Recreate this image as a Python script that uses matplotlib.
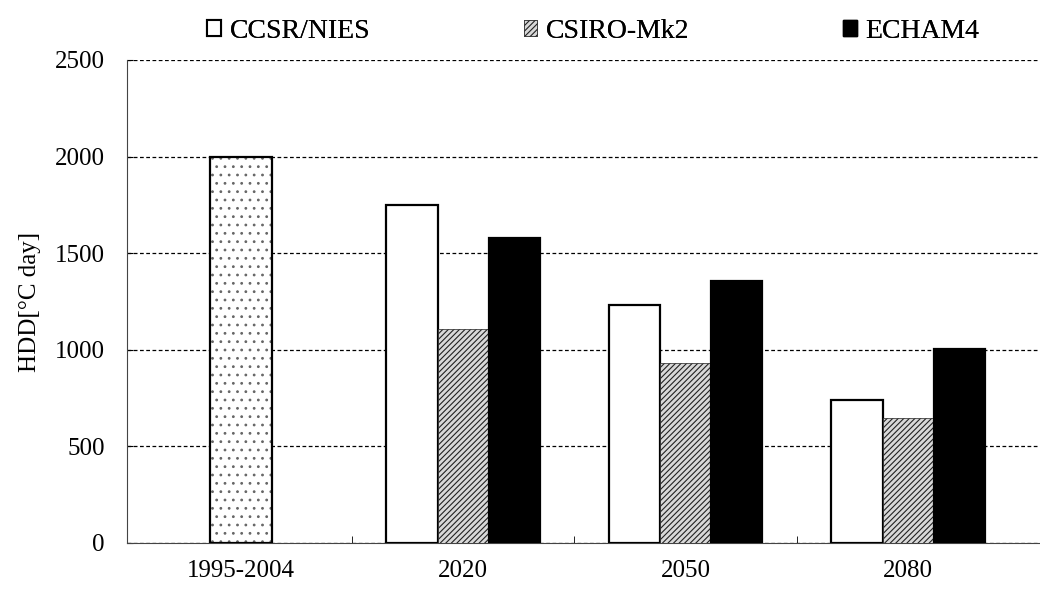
import numpy as np
import matplotlib.pyplot as plt
from matplotlib.patches import Patch

plt.rcParams['font.family'] = ['Liberation Serif', 'DejaVu Serif']
plt.rcParams['hatch.linewidth'] = 0.8

periods = ['1995-2004', '2020', '2050', '2080']
baseline = 2000
models = ['CCSR/NIES', 'CSIRO-Mk2', 'ECHAM4']
ccsr = [1750, 1230, 740]
csiro = [1110, 930, 645]
echam = [1580, 1355, 1005]


def main():
    fig = plt.figure(figsize=(10.4, 5.97), dpi=100)
    ax = fig.add_axes([0.122, 0.0905, 0.878, 0.809])

    x = np.arange(len(periods)) * 1.0
    w = 0.23

    # baseline bar (dotted)
    ax.bar(x[0], baseline, width=0.28, facecolor='white', edgecolor='#666666',
           hatch='..', linewidth=0, zorder=3)
    ax.bar(x[0], baseline, width=0.28, facecolor='none', edgecolor='black',
           linewidth=1.6, zorder=4)

    fx = x[1:]
    ax.bar(fx - w, ccsr, width=w, facecolor='white', edgecolor='black',
           linewidth=1.6, zorder=3)
    ax.bar(fx, csiro, width=w, facecolor='#d8d8d8', edgecolor='#222222',
           hatch='//////', linewidth=0.5, zorder=3)
    ax.bar(fx + w, echam, width=w, facecolor='black', edgecolor='black',
           linewidth=1.6, zorder=3)

    ax.set_xlim(-0.512, 3.593)
    ax.set_ylim(0, 2500)
    ax.set_yticks([0, 500, 1000, 1500, 2000, 2500])
    ax.set_xticks(x)
    ax.set_xticklabels(periods)
    ax.set_xticks(x[:-1] + 0.5, minor=True)
    ax.tick_params(axis='x', which='major', length=0, labelsize=18, pad=12)
    ax.tick_params(axis='x', which='minor', direction='in', length=5)
    ax.tick_params(axis='y', direction='in', length=4, labelsize=18, pad=16)
    ax.yaxis.grid(True, linestyle=(0, (3, 2)), color='black', linewidth=0.9, zorder=0)
    ax.set_axisbelow(True)
    for s in ['top', 'right']:
        ax.spines[s].set_visible(False)
    ax.spines['left'].set_color('#444444')
    ax.spines['bottom'].set_color('#444444')
    ax.set_ylabel('HDD[°C day]', fontsize=18, labelpad=10)

    handles = [Patch(facecolor='white', edgecolor='black', linewidth=1.5),
               Patch(facecolor='#d8d8d8', edgecolor='#222222', hatch='//////', linewidth=0.5),
               Patch(facecolor='black', edgecolor='black')]
    # one legend entry each, spread along the top
    for h, name, lx in zip(handles, models, [0.178, 0.482, 0.789]):
        lg = fig.legend([h], [name], loc='upper left', bbox_to_anchor=(lx, 1.005),
                        frameon=False, fontsize=20, handlelength=0.5,
                        handleheight=0.5, handletextpad=0.3, borderpad=0.3)
        fig.add_artist(lg)

    fig.savefig('out.png', dpi=100)


if __name__ == "__main__":
    main()
